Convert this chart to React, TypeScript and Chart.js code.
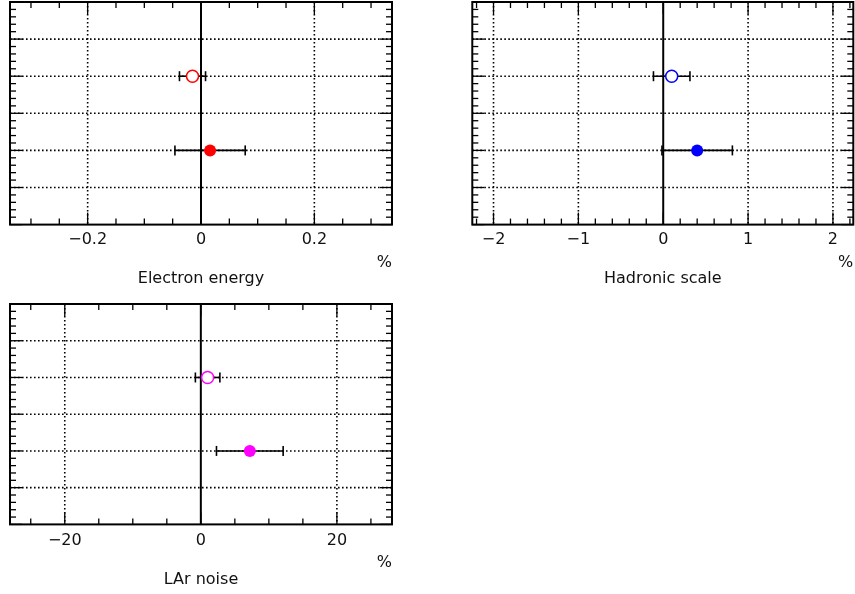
import { useEffect, useRef } from "react";
import { Chart, registerables } from "chart.js";

Chart.register(...registerables);

// ---- data ----
const rowPositions = [4, 2]; // open marker row, filled marker row
const rowGridLines = [1, 2, 3, 4, 5];
const rowMin = 0;
const rowMax = 6;

const electronValues = [-0.015, 0.016];
const electronErrors = [0.023, 0.062];
const electronTicks = [-0.2, 0, 0.2];

const hadronicValues = [0.1, 0.4];
const hadronicErrors = [0.215, 0.415];
const hadronicTicks = [-2, -1, 0, 1, 2];

const larValues = [1.0, 7.2];
const larErrors = [1.8, 4.9];
const larTicks = [-20, 0, 20];

const panelTitles = ["Electron energy", "Hadronic scale", "LAr noise"];
const unitLabel = "%";

const FONT = "'DejaVu Sans', sans-serif";

type Panel = {
  title: string;
  values: number[];
  errors: number[];
  ticks: number[];
  minorStep: number;
  xMin: number;
  xMax: number;
  color: string;
  box: { left: number; top: number; width: number; height: number };
  padding: { left: number; right: number; top: number; bottom: number };
  tickPad: number;
  unitDy: number;
  titleDy: number;
};

const panels: Panel[] = [
  {
    title: panelTitles[0],
    values: electronValues,
    errors: electronErrors,
    ticks: electronTicks,
    minorStep: 0.05,
    xMin: -0.337,
    xMax: 0.337,
    color: "#ff0000",
    box: { left: 0, top: 0, width: 420, height: 297 },
    padding: { left: 10, right: 28, top: 2, bottom: 42.4 },
    tickPad: 5.4,
    unitDy: 38,
    titleDy: 54,
  },
  {
    title: panelTitles[1],
    values: hadronicValues,
    errors: hadronicErrors,
    ticks: hadronicTicks,
    minorStep: 0.2,
    xMin: -2.25,
    xMax: 2.24,
    color: "#0000ff",
    box: { left: 460, top: 0, width: 395, height: 297 },
    padding: { left: 12.3, right: 1.7, top: 2, bottom: 42.4 },
    tickPad: 5.4,
    unitDy: 38,
    titleDy: 54,
  },
  {
    title: panelTitles[2],
    values: larValues,
    errors: larErrors,
    ticks: larTicks,
    minorStep: 5,
    xMin: -28.05,
    xMax: 28.1,
    color: "#ff00ff",
    box: { left: 0, top: 297, width: 420, height: 297 },
    padding: { left: 10, right: 28, top: 7, bottom: 36.2 },
    tickPad: 7.1,
    unitDy: 38,
    titleDy: 55,
  },
];

function fmt(v: number): string {
  if (v === 0) return "0";
  return (v < 0 ? "\u2212" : "") + String(Math.abs(v));
}

function makePlugin(p: Panel) {
  const line = (ctx: CanvasRenderingContext2D, x1: number, y1: number, x2: number, y2: number) => {
    ctx.beginPath();
    ctx.moveTo(x1, y1);
    ctx.lineTo(x2, y2);
    ctx.stroke();
  };
  return {
    id: "rootStyle",
    beforeDatasetsDraw(chart: any) {
      const { ctx, chartArea: a, scales } = chart;
      const x = scales.x;
      const y = scales.y;
      ctx.save();
      ctx.strokeStyle = "#000";
      ctx.lineWidth = 1.6;
      ctx.setLineDash([1.6, 2.4]);
      for (const v of p.ticks) {
        if (v === 0) continue;
        const px = x.getPixelForValue(v);
        line(ctx, px, a.top, px, a.bottom);
      }
      for (const r of rowGridLines) {
        const py = y.getPixelForValue(r);
        line(ctx, a.left, py, a.right, py);
      }
      ctx.setLineDash([]);
      ctx.lineWidth = 2;
      const zx = x.getPixelForValue(0);
      line(ctx, zx, a.top, zx, a.bottom);
      // error bars
      ctx.lineWidth = 1.6;
      p.values.forEach((v, i) => {
        const py = y.getPixelForValue(rowPositions[i]);
        const x1 = x.getPixelForValue(v - p.errors[i]);
        const x2 = x.getPixelForValue(v + p.errors[i]);
        line(ctx, x1, py, x2, py);
        line(ctx, x1, py - 5, x1, py + 5);
        line(ctx, x2, py - 5, x2, py + 5);
      });
      ctx.restore();
    },
    afterDatasetsDraw(chart: any) {
      const { ctx, chartArea: a, scales } = chart;
      const x = scales.x;
      const y = scales.y;
      ctx.save();
      ctx.strokeStyle = "#000";
      ctx.lineWidth = 1.3;
      // x ticks
      const k0 = Math.ceil(p.xMin / p.minorStep - 1e-9);
      const k1 = Math.floor(p.xMax / p.minorStep + 1e-9);
      for (let k = k0; k <= k1; k++) {
        const v = k * p.minorStep;
        const major = p.ticks.some((t) => Math.abs(t - v) < p.minorStep * 0.01);
        const len = major ? 12 : 6;
        const px = x.getPixelForValue(v);
        line(ctx, px, a.bottom, px, a.bottom - len);
        line(ctx, px, a.top, px, a.top + len);
      }
      // y ticks
      const steps = Math.round((rowMax - rowMin) / 0.2);
      for (let k = 0; k <= steps; k++) {
        const v = rowMin + k * 0.2;
        const major = k % 5 === 0;
        const len = major ? 12 : 6;
        const py = y.getPixelForValue(v);
        line(ctx, a.left, py, a.left + len, py);
        line(ctx, a.right, py, a.right - len, py);
      }
      // frame
      ctx.lineWidth = 2;
      ctx.strokeRect(a.left, a.top, a.right - a.left, a.bottom - a.top);
      // texts
      ctx.fillStyle = "#111";
      ctx.font = `16px ${FONT}`;
      ctx.textBaseline = "middle";
      ctx.textAlign = "right";
      ctx.fillText(unitLabel, a.right, a.bottom + p.unitDy);
      ctx.textAlign = "center";
      ctx.fillText(p.title, (a.left + a.right) / 2, a.bottom + p.titleDy);
      ctx.restore();
    },
  };
}

function PanelChart({ p }: { p: Panel }) {
  const ref = useRef<HTMLCanvasElement | null>(null);
  useEffect(() => {
    if (!ref.current) return;
    const chart = new Chart(ref.current, {
      type: "scatter",
      data: {
        datasets: [
          {
            data: p.values.map((v, i) => ({ x: v, y: rowPositions[i] })),
            pointRadius: 6,
            pointBackgroundColor: ["#ffffff", p.color],
            pointBorderColor: p.color,
            pointBorderWidth: [1.5, 0],
            showLine: false,
            clip: false,
          },
        ],
      },
      options: {
        responsive: false,
        animation: false,
        devicePixelRatio: 1,
        events: [],
        layout: { padding: p.padding, autoPadding: false },
        plugins: { legend: { display: false }, tooltip: { enabled: false } },
        scales: {
          x: {
            type: "linear",
            min: p.xMin,
            max: p.xMax,
            grid: { display: false, drawTicks: false },
            border: { display: false },
            afterBuildTicks: (scale: any) => {
              scale.ticks = p.ticks.map((value) => ({ value }));
            },
            ticks: {
              padding: p.tickPad,
              color: "#111",
              font: { family: FONT, size: 16 },
              callback: (v: any) => fmt(Number(v)),
              maxRotation: 0,
              autoSkip: false,
            },
          },
          y: { type: "linear", display: false, min: rowMin, max: rowMax },
        },
      },
      plugins: [makePlugin(p)],
    } as any);
    return () => chart.destroy();
  }, [p]);
  return (
    <canvas
      ref={ref}
      width={p.box.width}
      height={p.box.height}
      style={{
        position: "absolute",
        left: p.box.left,
        top: p.box.top,
        width: p.box.width,
        height: p.box.height,
      }}
    />
  );
}

export default function App() {
  return (
    <div
      style={{
        position: "fixed",
        left: 0,
        top: 0,
        width: 855,
        height: 594,
        background: "#fff",
        overflow: "hidden",
      }}
    >
      {panels.map((p, i) => (
        <PanelChart key={i} p={p} />
      ))}
    </div>
  );
}
